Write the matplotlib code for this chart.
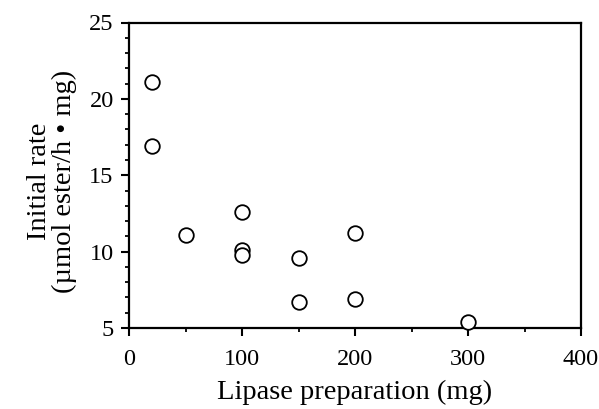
import matplotlib.pyplot as plt
from matplotlib.ticker import MultipleLocator

plt.rcParams['font.family'] = ['Liberation Serif', 'DejaVu Serif']

lipase_mg = [20, 20, 50, 100, 100, 100, 150, 150, 200, 200, 300]
initial_rate = [21.1, 16.9, 11.1, 12.6, 10.1, 9.8, 9.6, 6.7, 11.2, 6.9, 5.4]

fig = plt.figure(figsize=(5.99, 4.09), dpi=100)
ax = fig.add_axes([129/599, 1 - 328/409, (581-129)/599, (328-22.5)/409])

ax.plot(lipase_mg, initial_rate, 'o', mfc='white', mec='black', mew=1.3, ms=10.5, clip_on=False, zorder=3)

ax.set_xlim(0, 400)
ax.set_ylim(5, 25)
ax.xaxis.set_major_locator(MultipleLocator(100))
ax.xaxis.set_minor_locator(MultipleLocator(50))
ax.yaxis.set_major_locator(MultipleLocator(5))
ax.yaxis.set_minor_locator(MultipleLocator(1))
ax.tick_params(which='major', direction='out', length=6, width=1.5, labelsize=17.5)
ax.tick_params(axis='x', which='major', pad=9)
ax.tick_params(axis='y', which='major', pad=5)
ax.tick_params(which='minor', direction='out', length=3, width=1.3)
for s in ax.spines.values():
    s.set_linewidth(1.6)

ax.set_xlabel('Lipase preparation (mg)', fontsize=20.5)
ax.set_ylabel('Initial rate\n(µmol ester/h • mg)', fontsize=20.5, linespacing=1.0)
ax.xaxis.set_label_coords(0.5, -0.17)
ax.yaxis.set_label_coords(-0.115, 0.48)

fig.savefig('out.png', dpi=100)
